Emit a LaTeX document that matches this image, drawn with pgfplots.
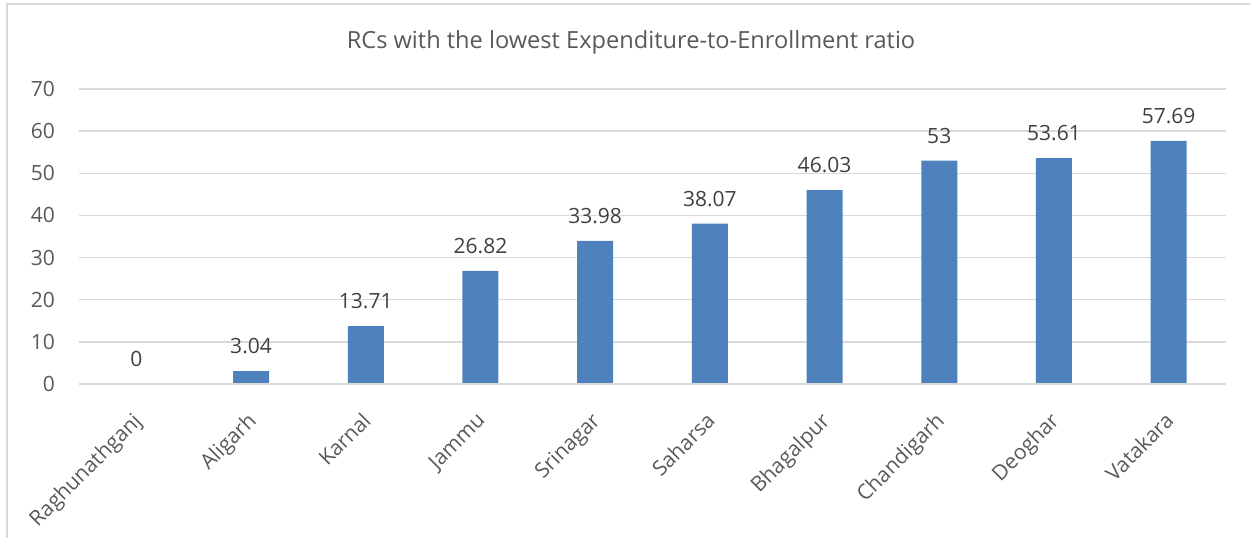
\documentclass[border=0pt]{standalone}
\usepackage{pgfplots}
\pgfplotsset{compat=1.18}
\usepackage{fontspec}
\setmainfont{Open Sans}
\definecolor{barblue}{HTML}{4F81BD}
\definecolor{gridgray}{HTML}{D9D9D9}
\definecolor{txtgray}{HTML}{595959}
\definecolor{lblgray}{HTML}{404040}
\begin{document}
\begin{tikzpicture}
\path[use as bounding box] (0,0) rectangle (625pt,268.5pt);
\draw[gridgray, line width=0.75pt] (3.5pt,-10pt) -- (3.5pt,266.5pt) -- (640pt,266.5pt);
\node[anchor=base, font=\fontsize{11.8}{13}\selectfont, text=txtgray] at (315.5pt,244pt) {RCs with the lowest Expenditure-to-Enrollment ratio};
\begin{axis}[
  at={(39.5pt,76.5pt)}, anchor=south west,
  scale only axis, width=573.5pt, height=147.5pt,
  ybar, bar width=18pt,
  xmin=-0.5, xmax=9.5, ymin=0, ymax=70,
  ytick={0,10,...,70},
  xtick=data,
  xticklabels={Raghunathganj,Aligarh,Karnal,Jammu,Srinagar,Saharsa,Bhagalpur,Chandigarh,Deoghar,Vatakara},
  axis line style={draw=none},
  axis x line*=bottom,
  major tick length=0pt,
  ymajorgrids, grid style={gridgray, line width=0.75pt},
  tick label style={font=\fontsize{10.5}{12}\selectfont, text=txtgray},
  /pgf/number format/assume math mode=true,
  yticklabel style={xshift=-8.5pt},
  xticklabel style={rotate=45, anchor=north east, xshift=-7.8pt, yshift=-4.3pt},
  nodes near coords,
  every node near coord/.append style={font=\fontsize{10.5}{12}\selectfont, text=lblgray, yshift=5pt},
  point meta=explicit symbolic,
]
\addplot[fill=barblue, draw=none] table[meta=lbl] {
x y lbl
0 0 0
1 3.04 3.04
2 13.71 13.71
3 26.82 26.82
4 33.98 33.98
5 38.07 38.07
6 46.03 46.03
7 53 53
8 53.61 53.61
9 57.69 57.69
};
\draw[gridgray, line width=0.75pt] (axis cs:-0.5,0) -- (axis cs:9.5,0);
\end{axis}
\end{tikzpicture}
\end{document}
